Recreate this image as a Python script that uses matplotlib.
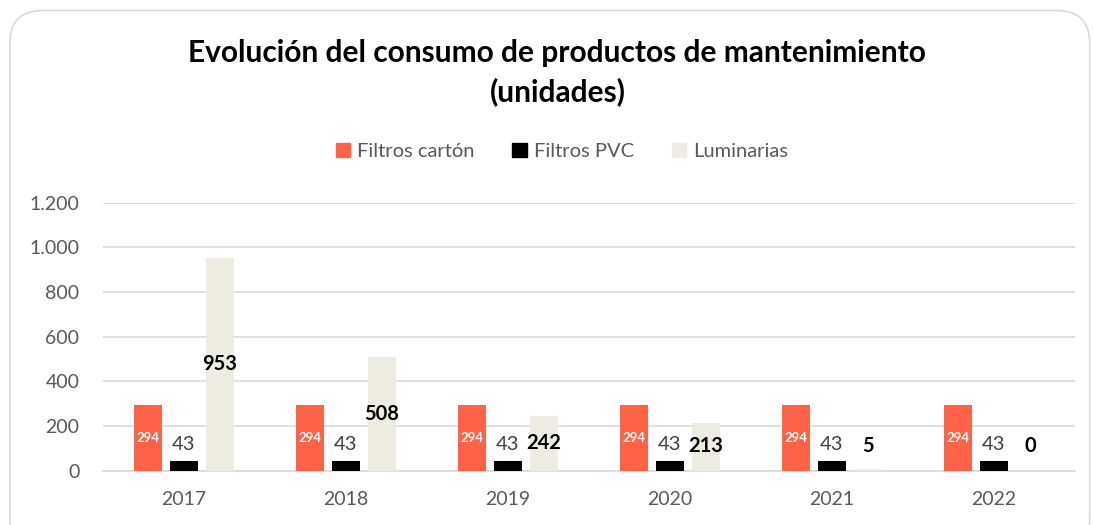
import numpy as np
import matplotlib.pyplot as plt
from matplotlib.patches import FancyBboxPatch, Patch
from matplotlib.ticker import FuncFormatter

# data
years        = ['2017', '2018', '2019', '2020', '2021', '2022']
filtros_cart = [294, 294, 294, 294, 294, 294]
filtros_pvc  = [43, 43, 43, 43, 43, 43]
luminarias   = [953, 508, 242, 213, 5, 0]

C_CART = '#FF6347'
C_PVC  = '#000000'
C_LUM  = '#EEECE1'
GREY   = '#595959'

plt.rcParams['font.family'] = ['Lato', 'DejaVu Sans']

fig = plt.figure(figsize=(10.93, 5.25), dpi=100)
ax = fig.add_axes([0.0942, 0.1038, 0.8893, 0.5102])

# rounded chart-area border
fig.patches.append(FancyBboxPatch((0.009, -0.05), 0.988, 1.03,
                                  boxstyle='round,pad=0,rounding_size=0.03',
                                  transform=fig.transFigure, fill=False,
                                  ec='#D9D9D9', lw=1.2, mutation_aspect=2.08))

x  = np.arange(len(years))
bw = 0.173
off = 0.222

ax.bar(x - off, filtros_cart, bw, color=C_CART, zorder=3)
ax.bar(x,       filtros_pvc,  bw, color=C_PVC,  zorder=3)
ax.bar(x + off, luminarias,   bw, color=C_LUM,  zorder=3)

for i in range(len(years)):
    ax.text(x[i] - off, filtros_cart[i] / 2, str(filtros_cart[i]), ha='center',
            va='center', color='white', fontsize=9.5, fontweight='bold', zorder=4)
    ax.text(x[i], filtros_pvc[i] + 72, str(filtros_pvc[i]), ha='center',
            va='center', color='#404040', fontsize=14.5, zorder=4)
    ax.text(x[i] + off, max(luminarias[i] / 2, 112), str(luminarias[i]),
            ha='center', va='center', color='black', fontsize=14.5,
            fontweight='bold', zorder=4)

ax.set_xlim(-0.5, len(years) - 0.5)
ax.set_ylim(0, 1200)
ax.set_yticks(range(0, 1201, 200))
ax.yaxis.set_major_formatter(FuncFormatter(lambda v, p: f'{int(v):,}'.replace(',', '.')))
ax.set_xticks(x)
ax.set_xticklabels(years)
ax.grid(axis='y', color='#D9D9D9', lw=1.2, zorder=0)
for s in ['top', 'right', 'left']:
    ax.spines[s].set_visible(False)
ax.spines['bottom'].set_color('#D9D9D9')
ax.spines['bottom'].set_linewidth(1.2)
ax.tick_params(length=0, labelsize=14, colors=GREY)
ax.tick_params(axis='x', pad=15)
ax.tick_params(axis='y', pad=17)

fig.text(0.51, 0.861, 'Evolución del consumo de productos de mantenimiento\n(unidades)',
         ha='center', va='center', fontsize=21.5, fontweight='bold',
         linespacing=1.42)

handles = [Patch(color=C_CART, label='Filtros cartón'),
           Patch(color=C_PVC, label='Filtros PVC'),
           Patch(color=C_LUM, label='Luminarias')]
fig.legend(handles=handles, loc='center', bbox_to_anchor=(0.514, 0.712), ncol=3,
           frameon=False, fontsize=14.5, labelcolor=GREY, handlelength=0.7,
           handleheight=0.7, handletextpad=0.35, columnspacing=1.9)

fig.savefig('out.png', dpi=100)
